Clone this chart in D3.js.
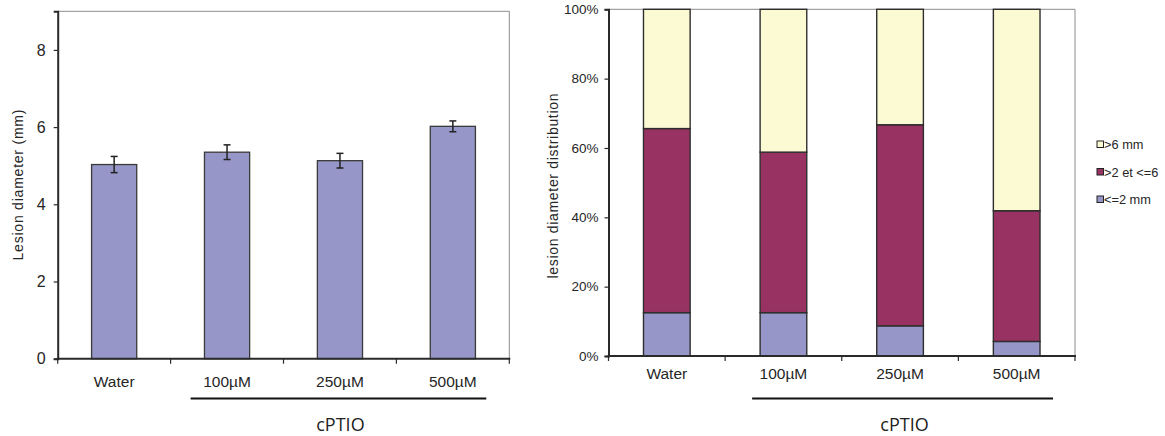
<!DOCTYPE html>
<html>
<head>
<meta charset="utf-8">
<script src="https://cdn.jsdelivr.net/npm/d3@7"></script>
<style>
  html, body { margin: 0; padding: 0; background: #fff; }
  svg { display: block; }
</style>
</head>
<body>
<div id="chart"></div>
<script>
// ---------- data ----------
const categories = ["Water", "100µM", "250µM", "500µM"];
const meanDiameter = [5.03, 5.35, 5.13, 6.02];
const errDiameter = [0.21, 0.19, 0.19, 0.14];
const diameterTicks = [0, 2, 4, 6, 8];

const seriesNames = ["<=2 mm", ">2 et <=6", ">6 mm"];
const pctSmall = [12.5, 12.5, 8.7, 4.2];
const pctMid = [53.1, 46.3, 58.0, 37.7];
const pctLarge = [34.4, 41.2, 33.3, 58.1];
const pctTicks = [0, 20, 40, 60, 80, 100];

const groupLabel = "cPTIO";
const groupedCategories = ["100µM", "250µM", "500µM"];
const leftYTitle = "Lesion diameter (mm)";
const rightYTitle = "lesion diameter distribution";

// ---------- styling ----------
const W = 1165, H = 436;
const colBlue = "#9696c8", colPlum = "#983262", colYellow = "#fcfad2";
const stroke = "#2a2a2a";
const sans = '"Liberation Sans", Arial, sans-serif';

const svg = d3.select("#chart").append("svg")
  .attr("width", W).attr("height", H)
  .attr("viewBox", `0 0 ${W} ${H}`);
svg.append("rect").attr("width", W).attr("height", H).attr("fill", "#fff");

function drawPanel(opt) {
  const g = svg.append("g");
  const x = d3.scaleBand().domain(categories).range([opt.x0, opt.x1]).padding(0);
  const xb = d3.scaleLinear().domain([0, categories.length]).range([opt.x0, opt.x1]);
  const y = d3.scaleLinear().domain(opt.domain).range([opt.y0, opt.y1]);
  const bw = x.bandwidth() * 0.4;
  const bx = c => x(c) + (x.bandwidth() - bw) / 2;

  // frame (top, right)
  g.append("line").attr("x1", opt.x0).attr("x2", opt.x1).attr("y1", opt.y1).attr("y2", opt.y1)
    .attr("stroke", "#8c8c8c").attr("stroke-width", 1);
  g.append("line").attr("x1", opt.x1).attr("x2", opt.x1).attr("y1", opt.y1).attr("y2", opt.y0)
    .attr("stroke", "#8c8c8c").attr("stroke-width", 1);

  opt.drawBars(g, x, y, bw, bx);

  // y axis
  const ya = g.append("g").attr("transform", `translate(${opt.x0},0)`)
    .call(d3.axisLeft(y).tickValues(opt.ticks).tickSize(4).tickPadding(opt.yPad).tickFormat(opt.fmt));
  ya.select(".domain").attr("stroke", stroke).attr("stroke-width", 2);
  ya.selectAll(".tick line").attr("stroke", stroke).attr("stroke-width", 1.2);
  ya.selectAll(".tick text").style("font-size", opt.yFont + "px").style("fill", "#262626")
    .style("font-family", sans);

  // x axis line and boundary ticks
  g.append("line").attr("x1", opt.x0 - 1).attr("x2", opt.x1 + 1).attr("y1", y(0)).attr("y2", y(0))
    .attr("stroke", stroke).attr("stroke-width", 2);
  g.selectAll(".btick").data(d3.range(categories.length + 1)).join("line")
    .attr("x1", d => xb(d)).attr("x2", d => xb(d))
    .attr("y1", y(0)).attr("y2", y(0) + 5)
    .attr("stroke", stroke).attr("stroke-width", 1.2);
  // x labels
  const xa = g.append("g").attr("transform", `translate(0,${opt.y0})`)
    .call(d3.axisBottom(x).tickSize(0).tickPadding(opt.xPad));
  xa.select(".domain").remove();
  xa.selectAll(".tick text").style("font-size", "15.5px").style("fill", "#262626")
    .style("font-family", sans);

  // y title
  g.append("text")
    .attr("transform", `translate(${opt.titleX},${opt.titleY}) rotate(-90)`)
    .attr("text-anchor", "middle")
    .style("font-size", "14px").style("font-family", sans).style("fill", "#262626")
    .attr("textLength", opt.titleLen).attr("lengthAdjust", "spacing")
    .text(opt.title);

  // group bracket line and label
  const gx0 = x(groupedCategories[0]) + opt.groupInset;
  const gx1 = x(groupedCategories[groupedCategories.length - 1]) + x.bandwidth() - opt.groupInsetR;
  g.append("line").attr("x1", gx0).attr("x2", gx1).attr("y1", 398.5).attr("y2", 398.5)
    .attr("stroke", "#111").attr("stroke-width", 2);
  g.append("text").attr("x", (gx0 + gx1) / 2 + 2).attr("y", 431)
    .attr("text-anchor", "middle")
    .style("font-family", '"Open Sans", "Noto Sans", sans-serif')
    .style("font-size", "18px").style("fill", "#222")
    .text(groupLabel);
  return { x, y };
}

// ---------- left panel ----------
drawPanel({
  x0: 57.7, x1: 509.3, y0: 358.7, y1: 11.3, domain: [0, 9],
  ticks: diameterTicks, fmt: d3.format("d"), yFont: 16, yPad: 8,
  xPad: 17, titleX: 23, titleY: 185, titleLen: 151, title: leftYTitle,
  groupInset: 20, groupInsetR: 23,
  drawBars: (g, x, y, bw, bx) => {
    g.selectAll(".bar").data(categories).join("rect")
      .attr("x", d => bx(d)).attr("width", bw)
      .attr("y", (d, i) => y(meanDiameter[i]))
      .attr("height", (d, i) => y(0) - y(meanDiameter[i]))
      .attr("fill", colBlue).attr("stroke", "#3a3a3a").attr("stroke-width", 1.3);
    const eb = g.selectAll(".err").data(categories).join("g");
    const cx = d => bx(d) + bw / 2;
    eb.append("line")
      .attr("x1", cx).attr("x2", cx)
      .attr("y1", (d, i) => y(meanDiameter[i] - errDiameter[i]))
      .attr("y2", (d, i) => y(meanDiameter[i] + errDiameter[i]))
      .attr("stroke", "#222").attr("stroke-width", 1.5);
    [-1, 1].forEach(s => {
      eb.append("line")
        .attr("x1", d => cx(d) - 3.5).attr("x2", d => cx(d) + 3.5)
        .attr("y1", (d, i) => y(meanDiameter[i] + s * errDiameter[i]))
        .attr("y2", (d, i) => y(meanDiameter[i] + s * errDiameter[i]))
        .attr("stroke", "#222").attr("stroke-width", 1.5);
    });
  }
});

// ---------- right panel ----------
const pctRows = categories.map((c, i) => ({
  cat: c, "<=2 mm": pctSmall[i], ">2 et <=6": pctMid[i], ">6 mm": pctLarge[i]
}));
const stack = d3.stack().keys(seriesNames)(pctRows);
const seriesColors = d3.scaleOrdinal().domain(seriesNames).range([colBlue, colPlum, colYellow]);

drawPanel({
  x0: 608.5, x1: 1075, y0: 356, y1: 9.3, domain: [0, 100],
  ticks: pctTicks, fmt: d => d + "%", yFont: 13.5, yPad: 6,
  xPad: 12, titleX: 558, titleY: 186, titleLen: 185, title: rightYTitle,
  groupInset: 27, groupInsetR: 22,
  drawBars: (g, x, y, bw, bx) => {
    stack.forEach(layer => {
      g.selectAll(null).data(layer).join("rect")
        .attr("x", d => bx(d.data.cat)).attr("width", bw)
        .attr("y", d => y(d[1]))
        .attr("height", d => y(d[0]) - y(d[1]))
        .attr("fill", seriesColors(layer.key))
        .attr("stroke", "#2e2e2e").attr("stroke-width", 1.4);
    });
  }
});

// ---------- legend ----------
const legendOrder = seriesNames.slice().reverse();
const leg = svg.append("g").attr("transform", "translate(1097,0)");
const ly = d3.scalePoint().domain(legendOrder).range([144.5, 199.5]);
leg.selectAll("rect").data(legendOrder).join("rect")
  .attr("x", 0).attr("y", d => ly(d) - 3.5).attr("width", 6.5).attr("height", 6.5)
  .attr("fill", d => seriesColors(d)).attr("stroke", "#222").attr("stroke-width", 1);
leg.selectAll("text").data(legendOrder).join("text")
  .attr("x", 7).attr("y", d => ly(d) + 4.5)
  .style("font-size", "12.8px").style("font-family", sans).style("fill", "#262626")
  .text(d => d);
</script>
</body>
</html>
